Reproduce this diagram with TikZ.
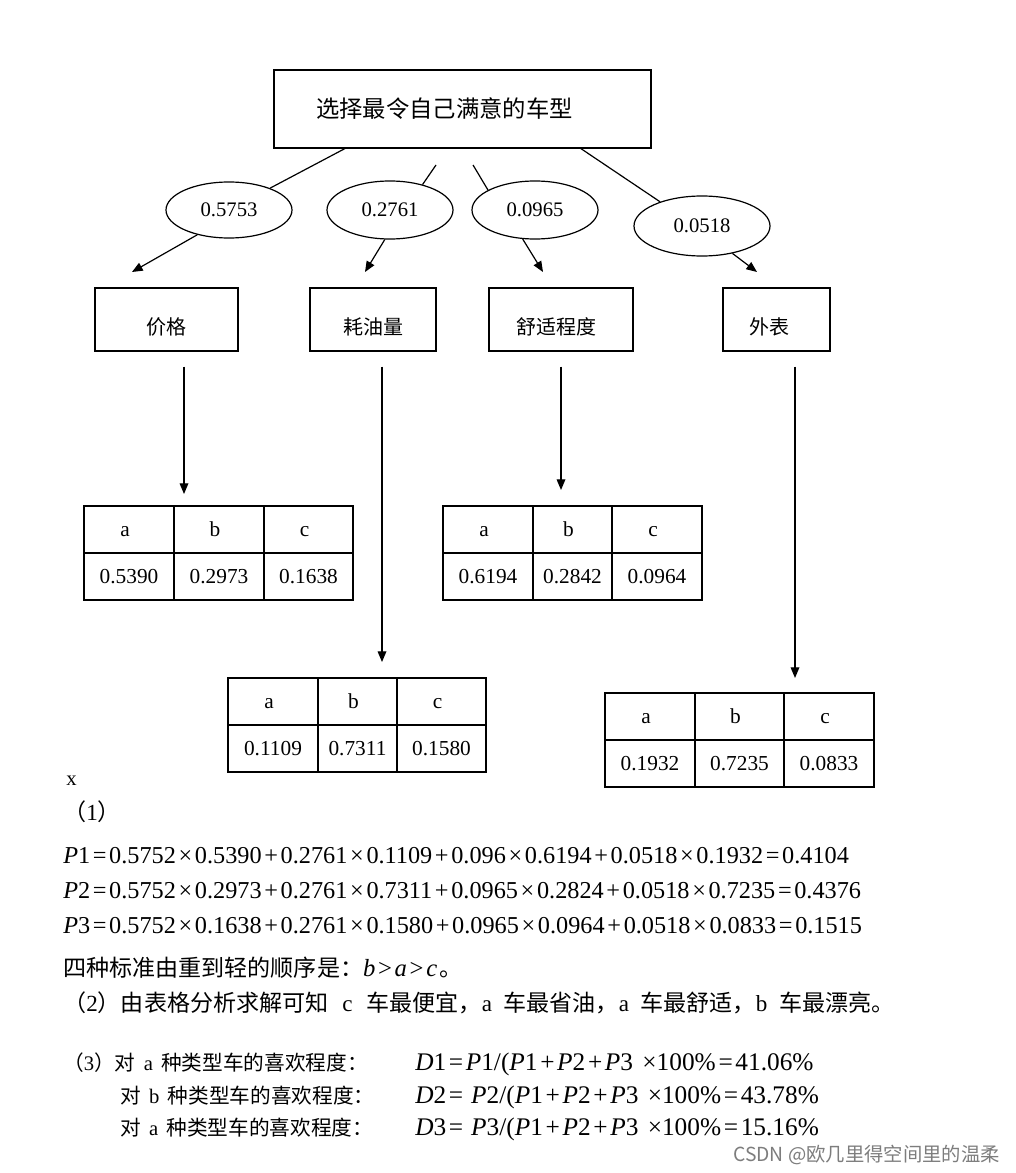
\documentclass[tikz,border=0pt]{standalone}
\usepackage{fontspec}
\setmainfont{Liberation Serif}
\newfontfamily\cjk{Noto Sans CJK SC}
\usetikzlibrary{shapes.geometric,arrows.meta}
\definecolor{wmgray}{RGB}{125,125,125}
\newcommand\op[1]{\kern2pt#1\kern2pt}
\newcommand\iv[1]{\textit{#1}}
\def\splitvals#1/#2/#3\relax{\def\va{#1}\def\vb{#2}\def\vc{#3}}
\tikzset{
  box/.style={draw, line width=1.1pt, inner sep=0pt},
  oval/.style={draw, ellipse, line width=0.9pt, inner sep=0pt, font=\fontsize{15.5}{18}\selectfont},
  link/.style={line width=0.9pt},
  arr/.style={line width=0.9pt, -{Triangle[length=8pt,width=6.5pt]}},
  tbl/.style={draw, line width=1.1pt, inner sep=0pt, outer sep=0pt},
  tline/.style={line width=1.1pt},
  cell/.style={font=\fontsize{16}{18}\selectfont, inner sep=0pt, text height=11pt, text depth=0pt},
  lbl/.style={font=\cjk\fontsize{15}{18}\selectfont, inner sep=0pt},
  txt/.style={anchor=base west, inner sep=0pt, font=\fontsize{17.3}{20}\selectfont},
  sml/.style={anchor=base west, inner sep=0pt, font=\fontsize{15.5}{18}\selectfont},
  fml/.style={anchor=base west, inner sep=0pt, font=\fontsize{18.2}{22}\selectfont},
  dml/.style={anchor=base west, inner sep=0pt, font=\fontsize{19}{22}\selectfont},
}
\newcommand\datatable[8]{%
  \pgfmathsetmacro\tw{(#6-#2)*0.75}%
  \pgfmathsetmacro\th{(#7-#3)*0.75}%
  \pgfmathsetmacro\tm{(#3+#7)/2}%
  \pgfmathsetmacro\yh{(#3+\tm)/2}%
  \pgfmathsetmacro\yv{(\tm+#7)/2}%
  \pgfmathsetmacro\xa{(#2+#4)/2}%
  \pgfmathsetmacro\xb{(#4+#5)/2}%
  \pgfmathsetmacro\xc{(#5+#6)/2}%
  \node[tbl, minimum width=\tw pt, minimum height=\th pt, anchor=north west] (#1) at (#2,#3) {};
  \draw[tline] (#2,\tm) -- (#6,\tm) (#4,#3) -- (#4,#7) (#5,#3) -- (#5,#7);
  \splitvals#8\relax
  \node[cell] (#1-ha) at (\xa-4,\yh) {a};
  \node[cell] (#1-hb) at (\xb-4,\yh) {b};
  \node[cell] (#1-hc) at (\xc-4,\yh) {c};
  \node[cell] (#1-va) at (\xa,\yv) {\va};
  \node[cell] (#1-vb) at (\xb,\yv) {\vb};
  \node[cell] (#1-vc) at (\xc,\yv) {\vc};
}
\begin{document}
\begin{tikzpicture}[x=0.75pt,y=-0.75pt]
\fill[white] (0,0) rectangle (1015,1173);
\useasboundingbox (0,0) rectangle (1015,1173);

% goal
\node[box, minimum width=282.75pt, minimum height=58.5pt, font=\cjk\fontsize{17.5}{20}\selectfont] (goal) at (462.5,109) {选择最令自己满意的车型\hspace*{27pt}};

% weights
\node[oval, minimum width=94.5pt, minimum height=42pt] (e1) at (229,210) {0.5753};
\node[oval, minimum width=94.5pt, minimum height=43.5pt] (e2) at (390,210) {0.2761};
\node[oval, minimum width=94.5pt, minimum height=43.5pt] (e3) at (535,210) {0.0965};
\node[oval, minimum width=102pt, minimum height=45pt] (e4) at (702,226) {0.0518};

% criteria boxes
\node[box, minimum width=107.25pt, minimum height=47.25pt] (b1) at (166.5,319.5) {};
\node[box, minimum width=94.5pt, minimum height=47.25pt] (b2) at (373,319.5) {};
\node[box, minimum width=108pt, minimum height=47.25pt] (b3) at (561,319.5) {};
\node[box, minimum width=80.25pt, minimum height=47.25pt] (b4) at (776.5,319.5) {};
\node[lbl] (b1t) at (166,327) {价格};
\node[lbl] (b2t) at (373,327) {耗油量};
\node[lbl] (b3t) at (556,327) {舒适程度};
\node[lbl] (b4t) at (769,327) {外表};

% connectors goal -> weights
\coordinate (s1) at (346,148);
\coordinate (s2) at (436,165);
\coordinate (s3) at (473,165);
\coordinate (s4) at (580,148);
\draw[link] (s1) -- (e1.28);
\draw[link] (s2) -- (e2.38);
\draw[link] (s3) -- (e3.157);
\draw[link] (s4) -- (e4.150);

% arrows weights -> criteria
\coordinate (a1) at (132,272);
\coordinate (a2) at (365,272);
\coordinate (a3) at (543,272);
\coordinate (a4) at (757,272);
\draw[arr] (e1.218) -- (a1);
\draw[arr] (e2.260) -- (a2);
\draw[arr] (e3.247) -- (a3);
\draw[arr] (e4.318) -- (a4);

% tables
\datatable{t1}{84}{506}{174}{264}{353}{600}{0.5390/0.2973/0.1638}
\datatable{t3}{443}{506}{533}{612}{702}{600}{0.6194/0.2842/0.0964}
\datatable{t2}{228}{678}{318}{397}{486}{772}{0.1109/0.7311/0.1580}
\datatable{t4}{605}{693}{695}{784}{874}{787}{0.1932/0.7235/0.0833}

% arrows criteria -> tables
\coordinate (v1) at (184,0);
\coordinate (v2) at (382,0);
\coordinate (v3) at (561,0);
\coordinate (v4) at (795,0);
\draw[arr, shorten <=11.25pt, shorten >=9pt] (b1.south -| v1) -- (t1.north -| v1);
\draw[arr, shorten <=11.25pt, shorten >=12pt] (b2.south -| v2) -- (t2.north -| v2);
\draw[arr, shorten <=11.25pt, shorten >=12pt] (b3.south -| v3) -- (t3.north -| v3);
\draw[arr, shorten <=11.25pt, shorten >=11.25pt] (b4.south -| v4) -- (t4.north -| v4);

% text
\node[sml] (xmark) at (66,785) {x};
\node[txt] (q1) at (63,820) {{\cjk （}1{\cjk ）}};
\node[fml] (p1) at (63,863) {\iv{P}1\op{=}0.5752\op{×}0.5390\op{+}0.2761\op{×}0.1109\op{+}0.096\op{×}0.6194\op{+}0.0518\op{×}0.1932\op{=}0.4104};
\node[fml] (p2) at (63,898) {\iv{P}2\op{=}0.5752\op{×}0.2973\op{+}0.2761\op{×}0.7311\op{+}0.0965\op{×}0.2824\op{+}0.0518\op{×}0.7235\op{=}0.4376};
\node[fml] (p3) at (63,933) {\iv{P}3\op{=}0.5752\op{×}0.1638\op{+}0.2761\op{×}0.1580\op{+}0.0965\op{×}0.0964\op{+}0.0518\op{×}0.0833\op{=}0.1515};
\node[txt] (order) at (63,976) {{\cjk 四种标准由重到轻的顺序是：}{\fontsize{18.5}{22}\selectfont\iv{b}\op{>}\iv{a}\op{>}\iv{c}}\kern2pt{\cjk 。}};
\node[txt] (q2) at (63,1011) {{\cjk （}2{\cjk ）由表格分析求解可知}\hspace{0.6em}c\hspace{0.6em}{\cjk 车最便宜，}a\hspace{0.5em}{\cjk 车最省油，}a\hspace{0.5em}{\cjk 车最舒适，}b\hspace{0.5em}{\cjk 车最漂亮。}};
\node[sml] (q3) at (63,1070) {{\cjk （}3{\cjk ）对}\hspace{0.4em}a\hspace{0.4em}{\cjk 种类型车的喜欢程度：}};
\node[sml] (q4) at (120,1103) {{\cjk 对}\hspace{0.4em}b\hspace{0.4em}{\cjk 种类型车的喜欢程度：}};
\node[sml] (q5) at (120,1135) {{\cjk 对}\hspace{0.4em}a\hspace{0.4em}{\cjk 种类型车的喜欢程度：}};
\node[dml] (d1) at (415,1070) {\iv{D}1\op{=}\iv{P}1/(\iv{P}1\op{+}\iv{P}2\op{+}\iv{P}3\hspace{7pt}×100\%\op{=}41.06\%};
\node[dml] (d2) at (415,1103) {\iv{D}2\op{=}\hspace{4pt}\iv{P}2/(\iv{P}1\op{+}\iv{P}2\op{+}\iv{P}3\hspace{7pt}×100\%\op{=}43.78\%};
\node[dml] (d3) at (415,1135) {\iv{D}3\op{=}\hspace{4pt}\iv{P}3/(\iv{P}1\op{+}\iv{P}2\op{+}\iv{P}3\hspace{7pt}×100\%\op{=}15.16\%};

% watermark
\node[anchor=east, inner sep=0pt, text=wmgray, font=\cjk\fontsize{14.5}{17}\selectfont] (wm) at (1000,1155) {CSDN @欧几里得空间里的温柔};
\end{tikzpicture}
\end{document}
